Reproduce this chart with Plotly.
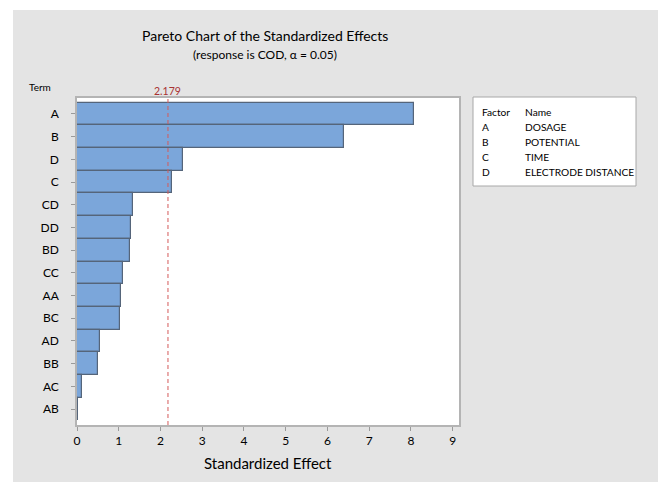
import plotly.graph_objects as go

# Standardized effects, sorted largest first
terms = ["A", "B", "D", "C", "CD", "DD", "BD", "CC", "AA", "BC", "AD", "BB", "AC", "AB"]
effects = [8.08, 6.40, 2.55, 2.28, 1.33, 1.29, 1.26, 1.10, 1.06, 1.04, 0.55, 0.50, 0.12, 0.02]
critical_value = 2.179
x_ticks = [0, 1, 2, 3, 4, 5, 6, 7, 8, 9]

factors = ["A", "B", "C", "D"]
factor_names = ["DOSAGE", "POTENTIAL", "TIME", "ELECTRODE DISTANCE"]

FONT = "Lato"
INK = "#000000"
W, H = 661, 482
L, R, T, B = 77, 459, 98, 425  # plot-area pixel box


def px(x):
    return (x - L) / (R - L)


def py(y):
    return (B - y) / (B - T)


fig = go.Figure()
fig.add_trace(go.Bar(
    x=effects, y=terms, orientation="h", width=1.0,
    marker=dict(color="#7BA6DA", line=dict(color="#55657A", width=1.2)),
    hoverinfo="x+y",
))

shapes = [
    # grey panel behind everything
    dict(type="rect", xref="paper", yref="paper", x0=px(13), x1=px(658), y0=py(482), y1=py(10),
         fillcolor="#E4E4E4", line=dict(width=0), layer="below"),
    # white plot area
    dict(type="rect", xref="paper", yref="paper", x0=0, x1=1, y0=0, y1=1,
         fillcolor="white", line=dict(width=0), layer="below"),
    # factor key box
    dict(type="rect", xref="paper", yref="paper", x0=px(473), x1=px(636), y0=py(186), y1=py(97),
         fillcolor="white", line=dict(color="#A8A8A8", width=1), layer="below"),
    # critical value reference line
    dict(type="line", xref="x", yref="paper", x0=critical_value, x1=critical_value, y0=0, y1=1,
         line=dict(color="#D45A5A", width=1, dash="4px,3px")),
]

annotations = [
    dict(text="Pareto Chart of the Standardized Effects", xref="paper", yref="paper",
         x=px(265), y=py(35), showarrow=False, xanchor="center", yanchor="middle",
         font=dict(family=FONT, size=14, color=INK)),
    dict(text="(response is COD, α = 0.05)", xref="paper", yref="paper",
         x=px(265), y=py(55), showarrow=False, xanchor="center", yanchor="middle",
         font=dict(family=FONT, size=12, color=INK)),
    dict(text="Term", xref="paper", yref="paper", x=px(27), y=py(87), showarrow=False,
         xanchor="left", yanchor="middle", font=dict(family=FONT, size=10, color=INK)),
    dict(text=f"{critical_value:.3f}", xref="x", yref="paper", x=critical_value, y=py(90.5),
         showarrow=False, xanchor="center", yanchor="middle",
         font=dict(family=FONT, size=10.5, color="#A83232")),
    dict(text="Standardized Effect", xref="paper", yref="paper", x=0.5, y=py(463),
         showarrow=False, xanchor="center", yanchor="middle",
         font=dict(family=FONT, size=15, color=INK)),
]

# factor key text
rows = [("Factor", "Name")] + list(zip(factors, factor_names))
for i, (f, n) in enumerate(rows):
    yy = py(112 + 15 * i)
    annotations.append(dict(text=f, xref="paper", yref="paper", x=px(480), y=yy, showarrow=False,
                            xanchor="left", yanchor="middle",
                            font=dict(family=FONT, size=10.2, color=INK)))
    annotations.append(dict(text=n, xref="paper", yref="paper", x=px(523), y=yy, showarrow=False,
                            xanchor="left", yanchor="middle",
                            font=dict(family=FONT, size=10.2, color=INK)))

fig.update_layout(
    width=W, height=H,
    margin=dict(l=L, r=W - R, t=T, b=H - B, pad=0),
    paper_bgcolor="white", plot_bgcolor="rgba(0,0,0,0)",
    showlegend=False, bargap=0,
    shapes=shapes, annotations=annotations,
    font=dict(family=FONT, color=INK),
)
fig.update_xaxes(
    range=[0, 9.15], tickvals=x_ticks, ticks="outside", ticklen=4, tickcolor="#9A9A9A",
    showgrid=False, zeroline=False, showline=True, linecolor="#B4B4B4", linewidth=1.5, mirror=True,
    tickfont=dict(family=FONT, size=12, color=INK),
)
fig.update_yaxes(
    type="category", categoryorder="array", categoryarray=terms, range=[13.7, -0.7],
    ticks="outside", ticklen=4, tickcolor="#9A9A9A", ticklabelstandoff=10,
    showgrid=False, zeroline=False, showline=True, linecolor="#B4B4B4", linewidth=1.5, mirror=True,
    tickfont=dict(family=FONT, size=12, color=INK),
)

fig.write_html("out.html")
